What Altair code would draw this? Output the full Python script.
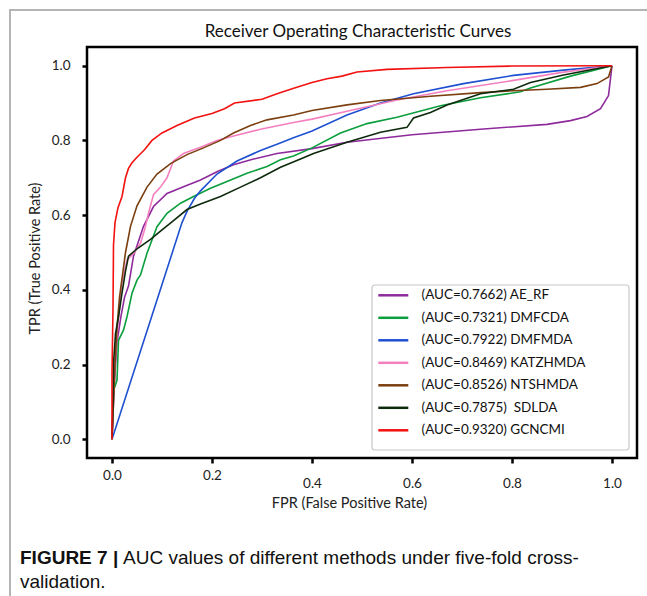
import altair as alt
import pandas as pd

# ---------------- data ----------------
methods = [
    "(AUC=0.7662) AE_RF",
    "(AUC=0.7321) DMFCDA",
    "(AUC=0.7922) DMFMDA",
    "(AUC=0.8469) KATZHMDA",
    "(AUC=0.8526) NTSHMDA",
    "(AUC=0.7875)\u00a0 SDLDA",
    "(AUC=0.9320) GCNCMI",
]
colors = ["#8E2A9C", "#0A9E3C", "#1E50D0", "#F47FBF", "#7B3F0F", "#0D2A0D", "#F21212"]

ae_rf_fpr = [0, 0.003, 0.006, 0.01, 0.018, 0.025, 0.033, 0.043, 0.063, 0.083, 0.11, 0.143, 0.177, 0.21, 0.243,
             0.283, 0.33, 0.4, 0.47, 0.6, 0.737, 0.87, 0.917, 0.95, 0.977, 0.993, 1.0]
ae_rf_tpr = [0, 0.10, 0.18, 0.26, 0.33, 0.38, 0.41, 0.49, 0.57, 0.623, 0.658, 0.676, 0.694, 0.716, 0.735,
             0.75, 0.765, 0.778, 0.795, 0.815, 0.83, 0.843, 0.853, 0.864, 0.885, 0.92, 1.0]

dmfcda_fpr = [0, 0.002, 0.003, 0.01, 0.013, 0.023, 0.03, 0.04, 0.05, 0.057, 0.07, 0.09, 0.11, 0.137, 0.163,
              0.197, 0.23, 0.27, 0.31, 0.337, 0.363, 0.4, 0.457, 0.51, 0.57, 0.657, 0.737, 0.817, 0.837,
              0.917, 1.0]
dmfcda_tpr = [0, 0.08, 0.13, 0.158, 0.265, 0.292, 0.328, 0.391, 0.426, 0.44, 0.498, 0.569, 0.605, 0.632, 0.65,
              0.672, 0.69, 0.712, 0.73, 0.748, 0.758, 0.78, 0.82, 0.845, 0.862, 0.893, 0.914, 0.93, 0.94,
              0.972, 1.0]

dmfmda_fpr = [0, 0.14, 0.15, 0.165, 0.177, 0.21, 0.25, 0.297, 0.33, 0.363, 0.4, 0.47, 0.537, 0.603, 0.703,
              0.803, 0.903, 1.0]
dmfmda_tpr = [0, 0.58, 0.61, 0.645, 0.665, 0.71, 0.745, 0.773, 0.79, 0.807, 0.825, 0.868, 0.9, 0.925, 0.952,
              0.974, 0.988, 1.0]

katz_fpr = [0, 0.003, 0.006, 0.01, 0.015, 0.02, 0.03, 0.045, 0.057, 0.065, 0.073, 0.083, 0.097, 0.11, 0.123,
            0.143, 0.177, 0.21, 0.243, 0.297, 0.363, 0.4, 0.47, 0.57, 0.67, 0.8, 0.9, 1.0]
katz_tpr = [0, 0.12, 0.20, 0.28, 0.35, 0.42, 0.48, 0.50, 0.525, 0.56, 0.605, 0.655, 0.675, 0.70, 0.745,
            0.765, 0.782, 0.80, 0.812, 0.83, 0.848, 0.857, 0.878, 0.908, 0.933, 0.96, 0.982, 1.0]

ntsh_fpr = [0, 0.003, 0.006, 0.01, 0.015, 0.02, 0.027, 0.037, 0.05, 0.07, 0.09, 0.117, 0.15, 0.183, 0.217,
            0.243, 0.277, 0.31, 0.363, 0.4, 0.47, 0.537, 0.637, 0.737, 0.803, 0.87, 0.937, 0.97, 0.993, 1.0]
ntsh_tpr = [0, 0.10, 0.20, 0.30, 0.38, 0.43, 0.50, 0.57, 0.625, 0.675, 0.71, 0.738, 0.762, 0.78, 0.80,
            0.82, 0.84, 0.855, 0.868, 0.88, 0.895, 0.907, 0.918, 0.928, 0.933, 0.937, 0.942, 0.952, 0.97, 1.0]

sdlda_fpr = [0, 0.002, 0.003, 0.007, 0.013, 0.02, 0.027, 0.033, 0.05, 0.077, 0.097, 0.123, 0.15, 0.177, 0.217,
             0.257, 0.297, 0.337, 0.377, 0.403, 0.47, 0.537, 0.59, 0.603, 0.637, 0.67, 0.737, 0.803, 0.837,
             0.903, 1.0]
sdlda_tpr = [0, 0.10, 0.203, 0.283, 0.328, 0.391, 0.45, 0.49, 0.51, 0.535, 0.557, 0.585, 0.615, 0.63, 0.65,
             0.675, 0.70, 0.728, 0.75, 0.765, 0.795, 0.822, 0.835, 0.86, 0.875, 0.895, 0.925, 0.937, 0.955,
             0.975, 1.0]

gcn_fpr = [0, 0, 0.002, 0.003, 0.006, 0.012, 0.02, 0.027, 0.033, 0.04, 0.05, 0.065, 0.08, 0.1, 0.13, 0.165,
           0.2, 0.225, 0.245, 0.3, 0.33, 0.365, 0.4, 0.43, 0.46, 0.49, 0.55, 0.67, 0.8, 1.0]
gcn_tpr = [0, 0.18, 0.35, 0.52, 0.58, 0.62, 0.65, 0.70, 0.725, 0.74, 0.755, 0.775, 0.80, 0.82, 0.84, 0.86,
           0.872, 0.885, 0.90, 0.91, 0.925, 0.94, 0.955, 0.965, 0.972, 0.983, 0.99, 0.995, 0.999, 1.0]

series_fpr = [ae_rf_fpr, dmfcda_fpr, dmfmda_fpr, katz_fpr, ntsh_fpr, sdlda_fpr, gcn_fpr]
series_tpr = [ae_rf_tpr, dmfcda_tpr, dmfmda_tpr, katz_tpr, ntsh_tpr, sdlda_tpr, gcn_tpr]

tick_values = [0.0, 0.2, 0.4, 0.6, 0.8, 1.0]

chart_title = "Receiver Operating Characteristic Curves"
x_title = "FPR (False Positive Rate)"
y_title = "TPR (True Positive Rate)"
caption_bold = "FIGURE 7 |"
caption_line1 = "AUC values of different methods under five-fold cross-"
caption_line2 = "validation."

rows = []
for m, xs, ys in zip(methods, series_fpr, series_tpr):
    for j, (xv, yv) in enumerate(zip(xs, ys)):
        rows.append({"method": m, "fpr": xv, "tpr": yv, "idx": j})
df = pd.DataFrame(rows)

one = alt.Data(values=[{"k": 0}])
FONT = "Lato"
CAP_FONT = "Liberation Sans Narrow, Arial Narrow, sans-serif"

xscale = alt.Scale(domain=[-0.05, 1.05], nice=False, zero=False)
yscale = alt.Scale(domain=[-0.05, 1.05], nice=False, zero=False)

lines = alt.Chart(df).mark_line(strokeWidth=1.6).encode(
    x=alt.X("fpr:Q", scale=xscale, axis=alt.Axis(
        values=tick_values, format=".1f", title=x_title, grid=False, domain=False,
        tickSize=5, tickWidth=2.5, tickColor="black",
        labelFont=FONT, labelFontSize=13.5, labelColor="#222",
        labelPadding={"condition": {"test": "datum.value > 0.3", "value": 13}, "value": 5},
        titleFont=FONT, titleFontSize=14.5, titleFontWeight="normal", titleColor="#222",
        titleX=262, titleY=45, titleBaseline="middle", titleAlign="center")),
    y=alt.Y("tpr:Q", scale=yscale, axis=alt.Axis(
        values=tick_values, format=".1f", title=y_title, grid=False, domain=False,
        tickSize=5, tickWidth=2.5, tickColor="black",
        labelFont=FONT, labelFontSize=13.5, labelColor="#222", labelPadding=12,
        titleFont=FONT, titleFontSize=14.5, titleFontWeight="normal", titleColor="#222",
        titleX=-52, titleY=211, titleBaseline="middle", titleAlign="center", titleAngle=270)),
    color=alt.Color("method:N", scale=alt.Scale(domain=methods, range=colors), legend=alt.Legend(
        title=None, orient="none", legendX=290, legendY=239.3, padding=0,
        symbolType="M-2,0H2", symbolSize=225, symbolStrokeWidth=2.5, symbolOffset=7.3,
        labelOffset=19.3, labelFont=FONT, labelFontSize=13.5, labelColor="#111",
        rowPadding=6.5, labelLimit=400)),
    order=alt.Order("idx:Q"),
)

legend_box = alt.Chart(one).mark_rect(fill="white", stroke="#c8c8c8", strokeWidth=1.2, cornerRadius=3).encode(
    x=alt.value(285), x2=alt.value(542), y=alt.value(238), y2=alt.value(403))

border_v = alt.Chart(one).mark_rule(color="#b4b4b4", strokeWidth=2).encode(
    x=alt.value(-77), y=alt.value(-38), y2=alt.value(560))
border_h = alt.Chart(one).mark_rule(color="#b4b4b4", strokeWidth=2).encode(
    x=alt.value(-78), x2=alt.value(580), y=alt.value(-37))

title_text = alt.Chart(one).mark_text(text=chart_title, font=FONT, fontSize=17, color="#111",
                                      align="center", baseline="middle").encode(
    x=alt.value(271), y=alt.value(32 - 47))

cap1 = alt.Chart(one).mark_text(text=caption_bold, font=CAP_FONT, fontSize=19, fontWeight="bold",
                                align="left", baseline="middle", color="#111").encode(
    x=alt.value(20 - 87), y=alt.value(558 - 47))
cap2 = alt.Chart(one).mark_text(text=caption_line1, font=CAP_FONT, fontSize=19,
                                align="left", baseline="middle", color="#111").encode(
    x=alt.value(123 - 87), y=alt.value(558 - 47))
cap3 = alt.Chart(one).mark_text(text=caption_line2, font=CAP_FONT, fontSize=19,
                                align="left", baseline="middle", color="#111").encode(
    x=alt.value(20 - 87), y=alt.value(582 - 47))

chart = alt.layer(border_v, border_h, lines, legend_box, title_text, cap1, cap2, cap3).properties(
    width=550, height=411,
    autosize=alt.AutoSizeParams(type="none"),
    padding={"left": 87, "top": 47, "right": 10, "bottom": 138},
    background="white",
).configure_view(stroke="black", strokeWidth=2.5)

chart.save("out.html", embed_options={"renderer": "svg", "actions": False})
